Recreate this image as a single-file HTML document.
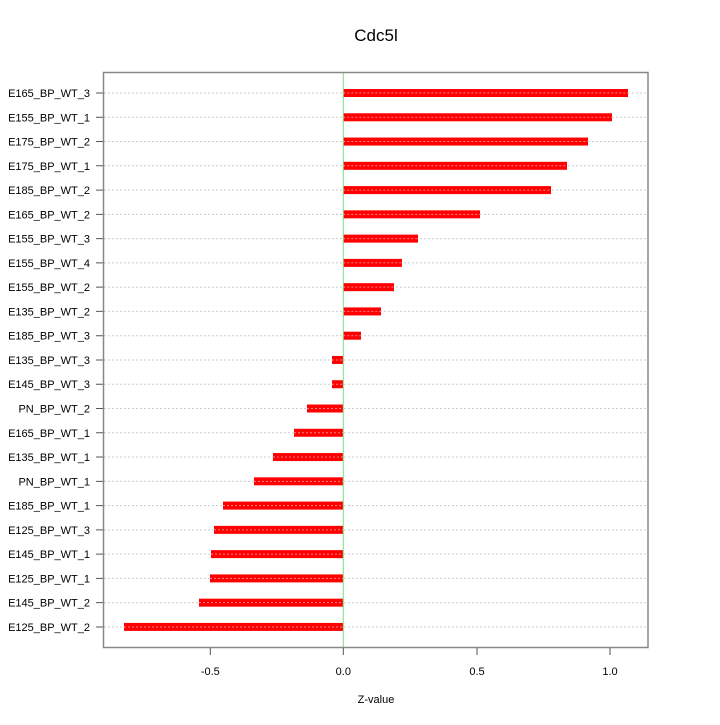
<!DOCTYPE html>
<html><head><meta charset="utf-8"><style>body{margin:0;background:#fff}</style></head>
<body>
<svg width="720" height="720" xmlns="http://www.w3.org/2000/svg" font-family="Liberation Sans, sans-serif">
<rect width="720" height="720" fill="#fff"/>
<text x="376" y="41" font-size="17" text-anchor="middle">Cdc5l</text>
<path stroke="#ccc" stroke-dasharray="2,2" fill="none" d="M104 93H647M104 117.27H647M104 141.54H647M104 165.81H647M104 190.08H647M104 214.35H647M104 238.62H647M104 262.89H647M104 287.16H647M104 311.43H647M104 335.7H647M104 359.97H647M104 384.24H647M104 408.51H647M104 432.78H647M104 457.05H647M104 481.32H647M104 505.59H647M104 529.86H647M104 554.13H647M104 578.4H647M104 602.67H647M104 626.94H647"/>
<path stroke="#555" fill="none" d="M96 93H103M96 117.27H103M96 141.54H103M96 165.81H103M96 190.08H103M96 214.35H103M96 238.62H103M96 262.89H103M96 287.16H103M96 311.43H103M96 335.7H103M96 359.97H103M96 384.24H103M96 408.51H103M96 432.78H103M96 457.05H103M96 481.32H103M96 505.59H103M96 529.86H103M96 554.13H103M96 578.4H103M96 602.67H103M96 626.94H103"/>
<g font-size="11" text-anchor="end">
<text x="90" y="97">E165_BP_WT_3</text>
<text x="90" y="121.27">E155_BP_WT_1</text>
<text x="90" y="145.54">E175_BP_WT_2</text>
<text x="90" y="169.81">E175_BP_WT_1</text>
<text x="90" y="194.08">E185_BP_WT_2</text>
<text x="90" y="218.35">E165_BP_WT_2</text>
<text x="90" y="242.62">E155_BP_WT_3</text>
<text x="90" y="266.89">E155_BP_WT_4</text>
<text x="90" y="291.16">E155_BP_WT_2</text>
<text x="90" y="315.43">E135_BP_WT_2</text>
<text x="90" y="339.7">E185_BP_WT_3</text>
<text x="90" y="363.97">E135_BP_WT_3</text>
<text x="90" y="388.24">E145_BP_WT_3</text>
<text x="90" y="412.51">PN_BP_WT_2</text>
<text x="90" y="436.78">E165_BP_WT_1</text>
<text x="90" y="461.05">E135_BP_WT_1</text>
<text x="90" y="485.32">PN_BP_WT_1</text>
<text x="90" y="509.59">E185_BP_WT_1</text>
<text x="90" y="533.86">E125_BP_WT_3</text>
<text x="90" y="558.13">E145_BP_WT_1</text>
<text x="90" y="582.4">E125_BP_WT_1</text>
<text x="90" y="606.67">E145_BP_WT_2</text>
<text x="90" y="630.94">E125_BP_WT_2</text>
</g>
<g fill="#ff0000">
<rect x="343.3" y="89" width="284.7" height="8"/>
<rect x="343.3" y="113.27" width="268.7" height="8"/>
<rect x="343.3" y="137.54" width="244.7" height="8"/>
<rect x="343.3" y="161.81" width="223.7" height="8"/>
<rect x="343.3" y="186.08" width="207.7" height="8"/>
<rect x="343.3" y="210.35" width="136.7" height="8"/>
<rect x="343.3" y="234.62" width="74.7" height="8"/>
<rect x="343.3" y="258.89" width="58.7" height="8"/>
<rect x="343.3" y="283.16" width="50.7" height="8"/>
<rect x="343.3" y="307.43" width="37.7" height="8"/>
<rect x="343.3" y="331.7" width="17.7" height="8"/>
<rect x="332" y="355.97" width="11.3" height="8"/>
<rect x="332" y="380.24" width="11.3" height="8"/>
<rect x="307" y="404.51" width="36.3" height="8"/>
<rect x="294" y="428.78" width="49.3" height="8"/>
<rect x="273" y="453.05" width="70.3" height="8"/>
<rect x="254" y="477.32" width="89.3" height="8"/>
<rect x="223" y="501.59" width="120.3" height="8"/>
<rect x="214" y="525.86" width="129.3" height="8"/>
<rect x="211" y="550.13" width="132.3" height="8"/>
<rect x="210" y="574.4" width="133.3" height="8"/>
<rect x="199" y="598.67" width="144.3" height="8"/>
<rect x="124" y="622.94" width="219.3" height="8"/>
</g>
<path stroke="#ff8080" stroke-dasharray="2,2" fill="none" d="M343.3 93H628M343.3 117.27H612M343.3 141.54H588M343.3 165.81H567M343.3 190.08H551M343.3 214.35H480M343.3 238.62H418M343.3 262.89H402M343.3 287.16H394M343.3 311.43H381M343.3 335.7H361M332 359.97H343.3M332 384.24H343.3M307 408.51H343.3M294 432.78H343.3M273 457.05H343.3M254 481.32H343.3M223 505.59H343.3M214 529.86H343.3M211 554.13H343.3M210 578.4H343.3M199 602.67H343.3M124 626.94H343.3"/>
<line x1="343.3" y1="72" x2="343.3" y2="647" stroke="#7fdf7f" stroke-width="1"/>
<rect x="103.5" y="72.5" width="544.5" height="575" fill="none" stroke="#888" stroke-width="1.5"/>
<g stroke="#555" stroke-width="1">
<line x1="210.3" y1="648" x2="210.3" y2="655"/><line x1="343.3" y1="648" x2="343.3" y2="655"/>
<line x1="477" y1="648" x2="477" y2="655"/><line x1="610" y1="648" x2="610" y2="655"/>
</g>
<g font-size="11" text-anchor="middle">
<text x="210.3" y="675">-0.5</text><text x="343.3" y="675">0.0</text><text x="477" y="675">0.5</text><text x="610" y="675">1.0</text>
<text x="376" y="703">Z-value</text>
</g>
</svg>
</body></html>
